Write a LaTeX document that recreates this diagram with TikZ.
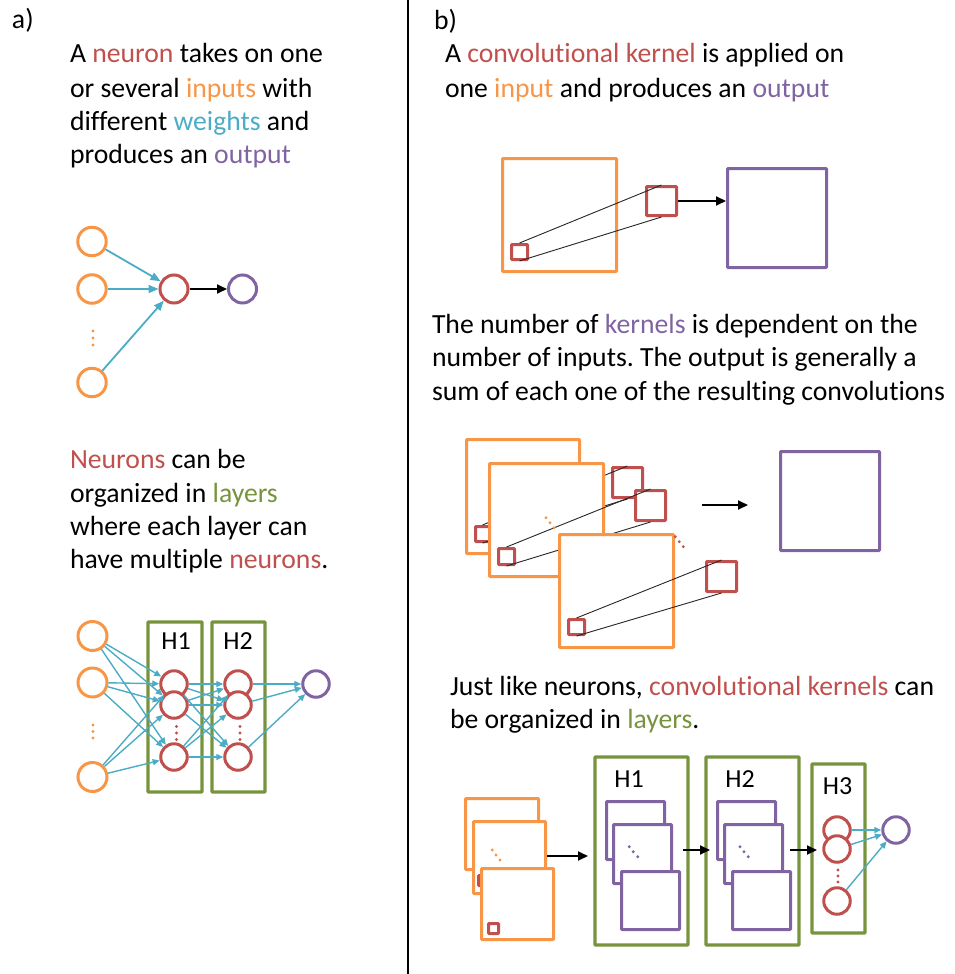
\documentclass[tikz,border=0pt]{standalone}
\usepackage{fontspec}
\setmainfont{Carlito}[Ligatures=NoCommon]
\usetikzlibrary{arrows.meta}
\definecolor{cor}{HTML}{F79646}
\definecolor{cred}{HTML}{C0504D}
\definecolor{cblue}{HTML}{4BACC6}
\definecolor{cpur}{HTML}{8064A2}
\definecolor{cgrn}{HTML}{77933C}
\frenchspacing
\begin{document}
\begin{tikzpicture}[x=1pt,y=-1pt,
  every node/.style={inner sep=0pt,outer sep=0pt},
  txt/.style={anchor=base west,font=\fontsize{27.7}{33.5}\selectfont},
  lbl/.style={anchor=base,font=\fontsize{26}{30}\selectfont},
  circ/.style={circle,draw,line width=3pt,fill=white,minimum size=#1,outer sep=1.5pt},
  inn/.style={circ=28.5,draw=cor},
  neu/.style={circ=28,draw=cred},
  outn/.style={circ=28,draw=cpur},
  sinn/.style={circ=29,draw=cor},
  sneu/.style={circ=26.5,draw=cred},
  soutn/.style={circ=26.5,draw=cpur},
  sqr/.style={rectangle,draw,fill=white,line width=3pt,rounded corners=0.8pt,anchor=north west,outer sep=1.5pt},
  osq/.style={sqr,draw=cor},
  rsq/.style={sqr,draw=cred},
  psq/.style={sqr,draw=cpur},
  gbox/.style={rectangle,draw=cgrn,line width=3.3pt,rounded corners=0.8pt,anchor=north west},
  barr/.style={draw=black,line width=1.8pt,-{Triangle[length=10pt,width=9pt]}},
  blarr/.style={draw=cblue,line width=1.8pt,-{Triangle[length=10pt,width=8pt]}},
  sblarr/.style={draw=cblue,line width=1.4pt,-{Triangle[length=7pt,width=6pt]}},
  kline/.style={draw=black!85,line width=0.9pt},
  dotr/.style={radius=1.6pt}
]
\useasboundingbox (0,0) rectangle (955,974);

% divider
\draw[line width=1.5pt] (408,0) -- (408,974);

% ---------------- a) ----------------
\node[txt] (la) at (12,29) {a)};
\node[txt] (ta1) at (70,63) {A \textcolor{cred}{neuron} takes on one};
\node[txt] (ta2) at (70,97) {or several \textcolor{cor}{inputs} with};
\node[txt] (ta3) at (70,130) {different \textcolor{cblue}{weights} and};
\node[txt] (ta4) at (70,163) {produces an \textcolor{cpur}{output}};

\node[inn] (i1) at (92,241.5) {};
\node[inn] (i2) at (92,289) {};
\node[inn] (i3) at (92,382.5) {};
\node[neu] (n) at (174,289) {};
\node[outn] (o) at (242.5,289) {};
\fill[cor] (93,331) circle[dotr] (93,338) circle[dotr] (93,345) circle[dotr];
\foreach \k in {1,2,3} \draw[blarr] (i\k) -- (n);
\draw[barr] (n) -- (o);

\node[txt] (tb1) at (70,468) {\textcolor{cred}{Neurons} can be};
\node[txt] (tb2) at (70,502) {organized in \textcolor{cgrn}{layers}};
\node[txt] (tb3) at (70,535) {where each layer can};
\node[txt] (tb4) at (70,568) {have multiple \textcolor{cred}{neurons}.};

\node[gbox,minimum width=54,minimum height=170] (g1) at (148,622) {};
\node[gbox,minimum width=53,minimum height=170] (g2) at (212,622) {};
\node[lbl] (lg1) at (176,649) {H1};
\node[lbl] (lg2) at (238,649) {H2};

\node[sinn] (x1) at (92.5,636) {};
\node[sinn] (x2) at (92.5,682.5) {};
\node[sinn] (x3) at (92.5,777) {};
\node[sneu] (h1) at (174,684) {};
\node[sneu] (h2) at (174,705) {};
\node[sneu] (h3) at (174,757) {};
\node[sneu] (k1) at (238,684) {};
\node[sneu] (k2) at (238,705) {};
\node[sneu] (k3) at (238,757) {};
\node[soutn] (y) at (316,684) {};
\fill[cor] (93,725) circle[dotr] (93,731.5) circle[dotr] (93,738) circle[dotr];
\fill[cred] (176.5,726.5) circle[dotr] (176.5,733) circle[dotr] (176.5,739.5) circle[dotr];
\fill[cred] (240,726.5) circle[dotr] (240,733) circle[dotr] (240,739.5) circle[dotr];
\foreach \i in {1,2,3} \foreach \j in {1,2,3} \draw[sblarr] (x\i) -- (h\j);
\foreach \i in {1,2,3} \foreach \j in {1,2,3} \draw[sblarr] (h\i) -- (k\j);
\foreach \i in {1,2,3} \draw[sblarr] (k\i) -- (y);

% ---------------- b) ----------------
\node[txt] (lb) at (434,30) {b)};
\node[txt] (tc1) at (445,63) {A \textcolor{cred}{convolutional kernel} is applied on};
\node[txt] (tc2) at (445,97) {one \textcolor{cor}{input} and produces an \textcolor{cpur}{output}};

\node[osq,minimum width=114,minimum height=113] (O) at (501,157) {};
\node[rsq,minimum width=16,minimum height=15] (ks) at (510,243) {};
\node[rsq,minimum width=30,minimum height=29] (K) at (645,185) {};
\draw[kline] (ks.north) -- (K.north);
\draw[kline] (ks.south) -- (K.south);
\node[psq,minimum width=99,minimum height=99] (P) at (726,167) {};
\draw[barr] (K.east) -- (K.east -| P.west);

\node[txt] (td1) at (432,333) {The number of \textcolor{cpur}{kernels} is dependent on the};
\node[txt] (td2) at (432,366.5) {number of inputs. The output is generally a};
\node[txt] (td3) at (432,400) {sum of each one of the resulting convolutions};

\node[osq,minimum width=113,minimum height=114] (O1) at (465,438) {};
\node[rsq,minimum width=14,minimum height=15] (s1) at (474,525) {};
\node[rsq,minimum width=30,minimum height=30] (B1) at (611,466) {};
\draw[kline] (s1.north) -- (B1.north);
\draw[kline] (s1.south) -- (B1.south);
\node[osq,minimum width=114,minimum height=113] (O2) at (488,462) {};
\node[rsq,minimum width=16,minimum height=16] (s2) at (497,547) {};
\node[rsq,minimum width=30,minimum height=30] (B2) at (634,489) {};
\draw[kline] (s2.north) -- (B2.north);
\draw[kline] (s2.south) -- (B2.south);
\node[osq,minimum width=114,minimum height=113] (O3) at (558,533) {};
\node[rsq,minimum width=16,minimum height=15] (s3) at (567,618) {};
\node[rsq,minimum width=30,minimum height=30] (B3) at (705,560) {};
\draw[kline] (s3.north) -- (B3.north);
\draw[kline] (s3.south) -- (B3.south);
\fill[cor] (546,517.7) circle[dotr] (550,522.7) circle[dotr] (554,527.7) circle[dotr];
\fill[cred] (675.3,536.7) circle[dotr] (679.3,541.7) circle[dotr] (683.3,546.7) circle[dotr];
\coordinate (m1) at (702,505);
\coordinate (m2) at (748,505);
\draw[barr] (m1) -- (m2);
\node[psq,minimum width=99,minimum height=99] (PP) at (779,450) {};

\node[txt] (te1) at (450,695) {Just like neurons, \textcolor{cred}{convolutional kernels} can};
\node[txt] (te2) at (450,728) {be organized in \textcolor{cgrn}{layers}.};

\node[osq,minimum width=73,minimum height=71] (Q1) at (464,797) {};
\node[osq,minimum width=72,minimum height=72] (Q2) at (472,820) {};
\node[rsq,minimum width=10,minimum height=10] (q2) at (477,874) {};
\node[osq,minimum width=72,minimum height=71] (Q3) at (480,867) {};
\node[rsq,minimum width=10,minimum height=10] (q3) at (487,922) {};
\fill[cor] (492.3,850) circle[dotr] (496,855) circle[dotr] (500,860) circle[dotr];

\node[gbox,minimum width=93,minimum height=188] (G1) at (595,757) {};
\node[gbox,minimum width=93,minimum height=188] (G2) at (706,757) {};
\node[gbox,minimum width=53,minimum height=169] (G3) at (812,764) {};
\node[lbl] (lG1) at (629,787.7) {H1};
\node[lbl] (lG2) at (740,787.7) {H2};
\node[lbl] (lG3) at (837.5,794.3) {H3};

\node[psq,minimum width=58,minimum height=58] (R1) at (605,800) {};
\node[psq,minimum width=58,minimum height=59] (R2) at (612,823) {};
\node[psq,minimum width=58,minimum height=58] (R3) at (620,870) {};
\fill[cpur] (629.3,846.7) circle[dotr] (633.3,851.7) circle[dotr] (637.7,856.7) circle[dotr];
\node[psq,minimum width=58,minimum height=58] (S1) at (716,800) {};
\node[psq,minimum width=58,minimum height=59] (S2) at (723,823) {};
\node[psq,minimum width=58,minimum height=58] (S3) at (731,870) {};
\fill[cpur] (740,846.7) circle[dotr] (744,851.7) circle[dotr] (748.3,856.7) circle[dotr];

\node[sneu] (z1) at (837,830) {};
\node[sneu] (z2) at (837,849) {};
\node[sneu] (z3) at (837,901) {};
\node[soutn] (w) at (896,830) {};
\fill[cred] (838,870) circle[dotr] (838,876) circle[dotr] (838,882) circle[dotr];
\foreach \i in {1,2,3} \draw[sblarr] (z\i) -- (w);

\coordinate (a1) at (547,856);
\coordinate (a2) at (588,856);
\coordinate (a3) at (683,850);
\coordinate (a4) at (710,850);
\coordinate (a5) at (790,850);
\coordinate (a6) at (817,850);
\draw[barr] (a1) -- (a2);
\draw[barr] (a3) -- (a4);
\draw[barr] (a5) -- (a6);
\end{tikzpicture}
\end{document}
